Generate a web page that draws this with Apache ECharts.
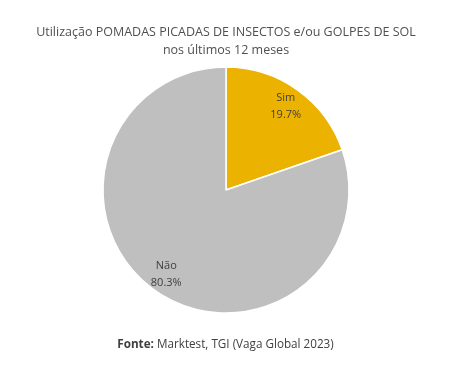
<!DOCTYPE html>
<html><head><meta charset="utf-8">
<script src="https://cdn.jsdelivr.net/npm/echarts@6/dist/echarts.min.js"></script>
<style>html,body{margin:0;padding:0;background:#fff}#c{width:459px;height:367px}</style>
</head><body><div id="c"></div>
<script>
const categories = ['Sim', 'Não'];
const values = [19.7, 80.3];
const colors = ['#EBB300', '#BFBFBF'];
const titleLines = ['Utilização POMADAS PICADAS DE INSECTOS e/ou GOLPES DE SOL', 'nos últimos 12 meses'];
const sourceLabel = 'Fonte:';
const sourceText = 'Marktest, TGI (Vaga Global 2023)';

const chart = echarts.init(document.getElementById('c'), null, {renderer: 'canvas'});
const data = categories.map((n, i) => ({name: n, value: values[i], itemStyle: {color: colors[i]}}));
chart.setOption({
  animation: false,
  title: [{
    text: titleLines.join('\n'), left: 226, top: 23, textAlign: 'center', padding: 0,
    textStyle: {fontFamily: 'Open Sans', fontSize: 12.5, fontWeight: 'normal', color: '#505050', lineHeight: 18}
  }, {
    text: '{b|' + sourceLabel + '} ' + sourceText, left: 225.5, top: 339, textAlign: 'center', padding: 0,
    textStyle: {fontFamily: 'Open Sans', fontSize: 11.7, fontWeight: 'normal', color: '#404040',
      rich: {b: {fontFamily: 'Open Sans', fontSize: 11.7, fontWeight: 'bold', color: '#404040'}}}
  }],
  series: [{
    type: 'pie', center: [226, 190], radius: [0, 123], startAngle: 90, clockwise: true,
    silent: true, label: {show: false}, labelLine: {show: false},
    itemStyle: {borderColor: '#fff', borderWidth: 1.5},
    data: data
  }, {
    type: 'pie', center: [226, 190], radius: [77, 123], startAngle: 90, clockwise: true,
    silent: true, itemStyle: {color: 'rgba(0,0,0,0)'},
    label: {show: true, position: 'inside', formatter: p => p.name + '\n' + p.value.toFixed(1) + '%',
      fontFamily: 'Open Sans', fontSize: 11, color: '#404040', lineHeight: 17},
    labelLine: {show: false},
    data: categories.map((n, i) => ({name: n, value: values[i]}))
  }]
});
</script></body></html>
